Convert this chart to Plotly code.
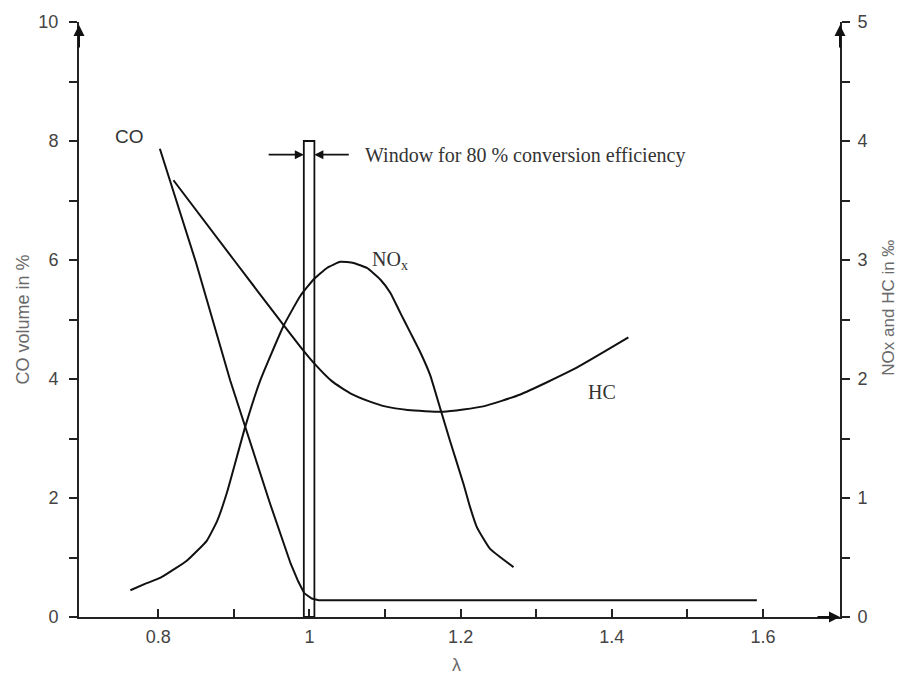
import plotly.graph_objects as go

# ---- data ----
co_lambda = [0.802, 0.85, 0.895, 0.915, 0.948, 0.975, 0.985, 0.993, 1.003, 1.012, 1.592]
co_vals = [7.87, 5.95, 3.98, 3.2, 1.9, 0.9, 0.6, 0.4, 0.31, 0.28, 0.28]

hc_lambda = [0.820, 0.90, 0.966, 0.988, 1.005, 1.03, 1.054, 1.08, 1.10, 1.13, 1.177, 1.23, 1.279, 1.349, 1.422]
hc_vals = [3.67, 3.0, 2.45, 2.27, 2.14, 1.98, 1.88, 1.81, 1.77, 1.74, 1.725, 1.77, 1.87, 2.08, 2.35]

nox_lambda = [0.763, 0.783, 0.803, 0.838, 0.864, 0.878, 0.891, 0.915, 0.935, 0.9657, 0.9878,
              1.0054, 1.0231, 1.0407, 1.0583, 1.076, 1.0937, 1.1069, 1.120, 1.1333, 1.1466,
              1.1598, 1.173, 1.1862, 1.204, 1.2127, 1.2216, 1.239, 1.270]
nox_vals = [0.225, 0.28, 0.33, 0.475, 0.64, 0.81, 1.05, 1.6, 1.99, 2.447, 2.698,
            2.836, 2.933, 2.985, 2.975, 2.933, 2.836, 2.725, 2.558, 2.392, 2.225,
            2.031, 1.753, 1.475, 1.114, 0.919, 0.753, 0.572, 0.419]

window_lambda = [0.9925, 1.0065]
window_top = 8
window_arrow_tails = [0.944, 1.054]
window_arrow_y = 7.77

x_ticks = [0.8, 1.0, 1.2, 1.4, 1.6]
x_ticktext = ["0.8", "1", "1.2", "1.4", "1.6"]
x_minor = [0.9, 1.1, 1.3, 1.5]
y1_ticks = [0, 2, 4, 6, 8, 10]
y1_minor = [1, 3, 5, 7, 9]
y2_ticks = [0, 1, 2, 3, 4, 5]
y2_minor = [0.5, 1.5, 2.5, 3.5, 4.5]

INK = "#111111"
AX = "#222222"
TICKC = "#444444"
TITLEC = "#6a6a6a"
SANS = "Liberation Sans, Arial, sans-serif"
SERIF = "Liberation Serif, Times New Roman, serif"

fig = go.Figure()
fig.add_trace(go.Scatter(x=co_lambda, y=co_vals, mode="lines",
                         line=dict(color=INK, width=2), yaxis="y", showlegend=False))
fig.add_trace(go.Scatter(x=hc_lambda, y=hc_vals, mode="lines",
                         line=dict(color=INK, width=2, shape="spline", smoothing=0.5),
                         yaxis="y2", showlegend=False))
fig.add_trace(go.Scatter(x=nox_lambda, y=nox_vals, mode="lines",
                         line=dict(color=INK, width=2, shape="spline", smoothing=0.4),
                         yaxis="y2", showlegend=False))

# window rectangle
fig.add_shape(type="rect", xref="x", yref="y",
              x0=window_lambda[0], x1=window_lambda[1], y0=0, y1=window_top,
              line=dict(color=INK, width=1.8), fillcolor="rgba(0,0,0,0)")

ann = []
# window arrows
ann.append(dict(x=window_lambda[0], y=window_arrow_y, ax=window_arrow_tails[0], ay=window_arrow_y,
                xref="x", yref="y", axref="x", ayref="y", text="", showarrow=True,
                arrowhead=2, arrowsize=1, arrowwidth=1.8, arrowcolor=INK))
ann.append(dict(x=window_lambda[1], y=window_arrow_y, ax=window_arrow_tails[1], ay=window_arrow_y,
                xref="x", yref="y", axref="x", ayref="y", text="", showarrow=True,
                arrowhead=2, arrowsize=1, arrowwidth=1.8, arrowcolor=INK))
ann.append(dict(x=1.071, y=7.75, xref="x", yref="y", text="Window for 80 % conversion efficiency",
                showarrow=False, xanchor="left", yanchor="middle",
                font=dict(family=SERIF, size=20, color="#333333")))
# curve labels
ann.append(dict(x=0.7616, y=8.07, xref="x", yref="y", text="CO", showarrow=False,
                xanchor="center", yanchor="middle",
                font=dict(family=SANS, size=19, color="#333333")))
ann.append(dict(x=1.080, y=3.0, xref="x", yref="y2", text="NO<sub>x</sub>", showarrow=False,
                xanchor="left", yanchor="middle",
                font=dict(family=SERIF, size=20, color="#333333")))
ann.append(dict(x=1.387, y=1.89, xref="x", yref="y2", text="HC", showarrow=False,
                xanchor="center", yanchor="middle",
                font=dict(family=SERIF, size=20, color="#333333")))
# axis titles
ann.append(dict(x=-0.0736, y=0.5, xref="paper", yref="paper", text="CO volume in %",
                xanchor="center", yanchor="middle",
                textangle=-90, showarrow=False, font=dict(family=SANS, size=18, color=TITLEC)))
ann.append(dict(x=1.0645, y=0.52, xref="paper", yref="paper", text="NOx and HC in ‰",
                xanchor="center", yanchor="middle",
                textangle=-90, showarrow=False, font=dict(family=SANS, size=17, color=TITLEC)))
ann.append(dict(x=0.496, y=-0.08, xref="paper", yref="paper", text="λ",
                xanchor="center", yanchor="middle",
                showarrow=False, font=dict(family=SANS, size=18, color=TITLEC)))
# axis arrows
ann.append(dict(x=0, y=0.995, xref="paper", yref="paper", ax=0, ay=24, text="", showarrow=True,
                arrowhead=2, arrowsize=1.1, arrowwidth=2, arrowcolor=INK))
ann.append(dict(x=1, y=0.995, xref="paper", yref="paper", ax=0, ay=24, text="", showarrow=True,
                arrowhead=2, arrowsize=1.1, arrowwidth=2, arrowcolor=INK))
ann.append(dict(x=1, y=0, xref="paper", yref="paper", ax=-24, ay=0, text="", showarrow=True,
                arrowhead=2, arrowsize=1.1, arrowwidth=2, arrowcolor=INK))

fig.update_layout(
    width=900, height=679,
    margin=dict(l=79, r=60, t=17, b=62),
    paper_bgcolor="white", plot_bgcolor="white",
    annotations=ann,
    xaxis=dict(range=[0.695, 1.702], tickvals=x_ticks, ticktext=x_ticktext,
               ticks="inside", ticklen=8, tickwidth=1.5, tickcolor=AX,
               minor=dict(tickvals=x_minor, ticks="inside", ticklen=8, tickwidth=1.5, tickcolor=AX),
               showline=True, linecolor=AX, linewidth=2, showgrid=False, zeroline=False,
               tickfont=dict(family=SANS, size=18, color=TICKC), ticklabelstandoff=2),
    yaxis=dict(range=[0, 10], tickvals=y1_ticks, ticks="outside", ticklen=8, tickwidth=1.5,
               tickcolor=AX,
               minor=dict(tickvals=y1_minor, ticks="outside", ticklen=8, tickwidth=1.5, tickcolor=AX),
               showline=True, linecolor=AX, linewidth=2, showgrid=False, zeroline=False,
               tickfont=dict(family=SANS, size=18, color=TICKC), ticklabelstandoff=7),
    yaxis2=dict(range=[0, 5], tickvals=y2_ticks, overlaying="y", side="right",
                ticks="outside", ticklen=8, tickwidth=1.5, tickcolor=AX,
                minor=dict(tickvals=y2_minor, ticks="outside", ticklen=8, tickwidth=1.5, tickcolor=AX),
                showline=True, linecolor=AX, linewidth=2, showgrid=False, zeroline=False,
                tickfont=dict(family=SANS, size=18, color=TICKC), ticklabelstandoff=4),
)

fig.write_html("out.html")
